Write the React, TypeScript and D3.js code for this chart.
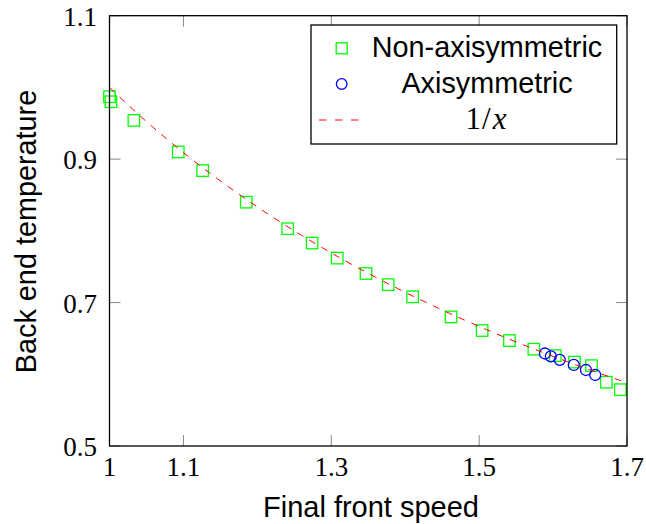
import React from "react";
import * as d3 from "d3";

const nonAxiX = [1.0, 1.002, 1.033, 1.093, 1.126, 1.185, 1.241, 1.274, 1.308, 1.347, 1.377, 1.41, 1.462, 1.504, 1.541, 1.574, 1.603, 1.629, 1.652, 1.672, 1.691];
const nonAxiY = [0.987, 0.98, 0.954, 0.91, 0.884, 0.84, 0.803, 0.783, 0.762, 0.7405, 0.725, 0.708, 0.68, 0.661, 0.647, 0.635, 0.626, 0.617, 0.612, 0.589, 0.5785];
const axiX = [1.589, 1.597, 1.609, 1.628, 1.6445, 1.657];
const axiY = [0.629, 0.625, 0.62, 0.613, 0.606, 0.599];
const xTicks = [1, 1.1, 1.3, 1.5, 1.7];
const xTickLabels = ["1", "1.1", "1.3", "1.5", "1.7"];
const yTicks = [0.5, 0.7, 0.9, 1.1];
const yTickLabels = ["0.5", "0.7", "0.9", "1.1"];
const legendLabels = ["Non-axisymmetric", "Axisymmetric"];
const curveXs = d3.range(0, 71).map((i) => 1 + i * 0.01);

const W = 646;
const H = 524;
const L = 109.5, R = 627, T = 15.7, B = 446;

export default function App() {
  const x = d3.scaleLinear().domain([1, 1.7]).range([L, R]);
  const y = d3.scaleLinear().domain([0.5, 1.1]).range([B, T]);
  const line = d3
    .line<number>()
    .x((d) => x(d))
    .y((d) => y(1 / d));
  const sans = "'Liberation Sans', Arial, sans-serif";
  const serif = "'Liberation Serif', 'Times New Roman', serif";
  const green = "#00ff00";
  const blue = "#0000ff";
  const red = "#ff0000";
  const sq = 11.5;
  const tickLen = 11;
  const tickColor = "#888";

  return (
    <svg
      width={W}
      height={H}
      style={{ position: "absolute", left: 0, top: 0, background: "#fff" }}
    >
      <rect x={0} y={0} width={W} height={H} fill="#fff" />
      {xTicks.map((t, i) => (
        <g key={"xt" + i}>
          <line x1={x(t)} x2={x(t)} y1={B} y2={B - tickLen} stroke={tickColor} strokeWidth={1} />
          <line x1={x(t)} x2={x(t)} y1={T} y2={T + tickLen} stroke={tickColor} strokeWidth={1} />
          <text x={x(t)} y={475.7} textAnchor="middle" fontFamily={serif} fontSize={27} fill="#000">
            {xTickLabels[i]}
          </text>
        </g>
      ))}
      {yTicks.map((t, i) => (
        <g key={"yt" + i}>
          <line x1={L} x2={L + tickLen} y1={y(t)} y2={y(t)} stroke={tickColor} strokeWidth={1} />
          <line x1={R} x2={R - tickLen} y1={y(t)} y2={y(t)} stroke={tickColor} strokeWidth={1} />
          <text x={97} y={y(t) + 10} textAnchor="end" fontFamily={serif} fontSize={27} fill="#000">
            {yTickLabels[i]}
          </text>
        </g>
      ))}
      {nonAxiX.map((v, i) => (
        <rect
          key={"s" + i}
          x={x(v) - sq / 2}
          y={y(nonAxiY[i]) - sq / 2}
          width={sq}
          height={sq}
          fill="none"
          stroke={green}
          strokeWidth={1.3}
        />
      ))}
      {axiX.map((v, i) => (
        <circle
          key={"c" + i}
          cx={x(v)}
          cy={y(axiY[i])}
          r={5.5}
          fill="none"
          stroke={blue}
          strokeWidth={1.3}
        />
      ))}
      <path
        d={line(curveXs) || ""}
        fill="none"
        stroke={red}
        strokeWidth={1}
        strokeDasharray="7 7"
      />
      <rect x={L} y={T} width={R - L} height={B - T} fill="none" stroke="#000" strokeWidth={1.3} />
      <rect x={311} y={25} width={305.7} height={119} fill="#fff" stroke="#000" strokeWidth={1.3} />
      <rect x={341.7 - 5.5} y={48.3 - 5.5} width={11} height={11} fill="none" stroke={green} strokeWidth={1.3} />
      <circle cx={341.7} cy={84} r={5.3} fill="none" stroke={blue} strokeWidth={1.3} />
      <line x1={319} x2={359} y1={120} y2={120} stroke={red} strokeWidth={1} strokeDasharray="7.5 8.5" />
      <text x={487} y={56.7} textAnchor="middle" fontFamily={sans} fontSize={28.8} fill="#000">
        {legendLabels[0]}
      </text>
      <text x={487} y={92.7} textAnchor="middle" fontFamily={sans} fontSize={28.8} fill="#000">
        {legendLabels[1]}
      </text>
      <text x={486} y={129} textAnchor="middle" fontFamily={serif} fontSize={31} fill="#000">
        1<tspan dx={1}>/</tspan><tspan fontStyle="italic" dx={2}>x</tspan>
      </text>
      <text x={371} y={516.7} textAnchor="middle" fontFamily={sans} fontSize={29} fill="#000">
        Final front speed
      </text>
      <text
        transform="translate(35.5,231.5) rotate(-90)"
        textAnchor="middle"
        fontFamily={sans}
        fontSize={28.8}
        fill="#000"
      >
        Back end temperature
      </text>
    </svg>
  );
}
